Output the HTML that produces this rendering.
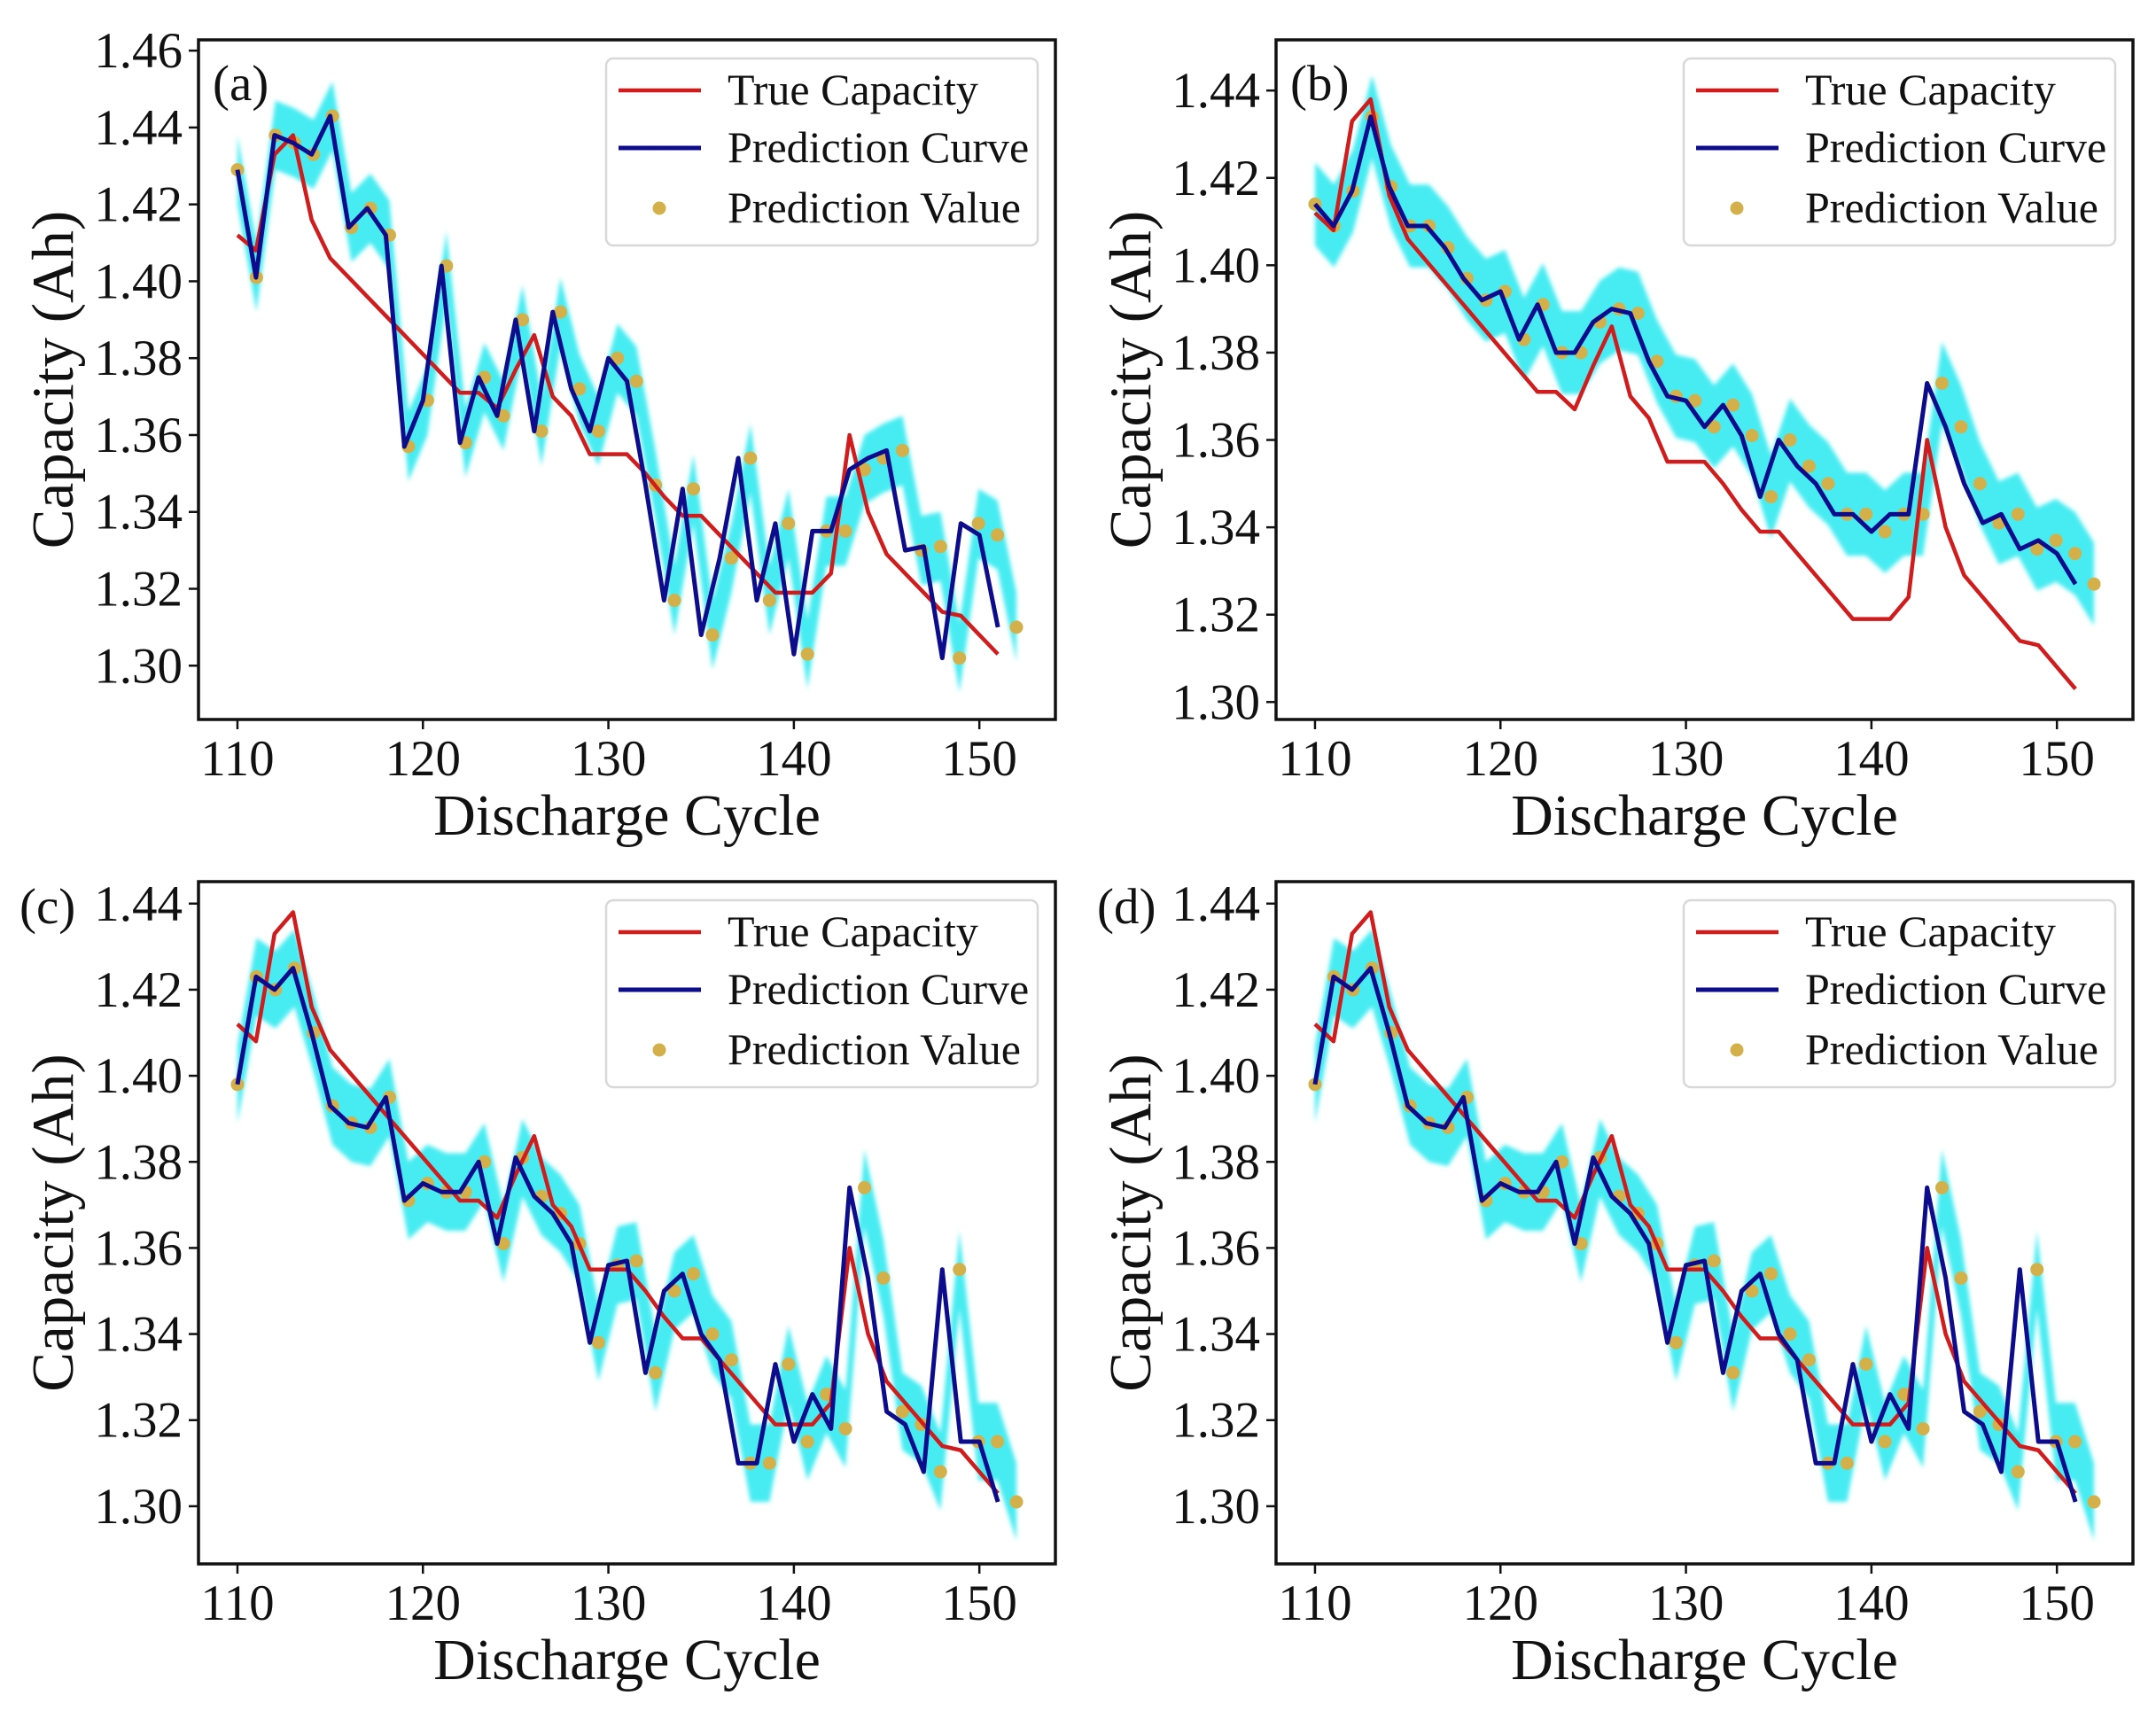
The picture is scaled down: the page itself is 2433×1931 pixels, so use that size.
<!DOCTYPE html>
<html><head><meta charset="utf-8">
<style>
html,body{margin:0;padding:0;background:#fff;}
svg{display:block;}
text{font-family:"Liberation Serif",serif;fill:#111;}
</style></head>
<body>
<svg id="fig" width="2433" height="1931" viewBox="0 0 2433 1931" xmlns="http://www.w3.org/2000/svg">
<defs><filter id="soft" x="-5%" y="-5%" width="110%" height="110%"><feGaussianBlur stdDeviation="2.5"/></filter></defs>
</svg>
<script>
// ---------- data ----------
const cycles = [110,111,112,113,114,115,116,117,118,119,120,121,122,123,124,125,126,127,128,129,130,131,132,133,134,135,136,137,138,139,140,141,142,143,144,145,146,147,148,149,150,151];
const trueCapacity = [1.412,1.408,1.433,1.438,1.416,1.406,1.401,1.396,1.391,1.386,1.381,1.376,1.371,1.371,1.367,1.377,1.386,1.370,1.365,1.355,1.355,1.355,1.350,1.344,1.339,1.339,1.334,1.329,1.324,1.319,1.319,1.319,1.324,1.360,1.340,1.329,1.324,1.319,1.314,1.313,1.308,1.303];
const predA = [1.429,1.401,1.438,1.436,1.433,1.443,1.414,1.419,1.412,1.357,1.369,1.404,1.358,1.375,1.365,1.390,1.361,1.392,1.372,1.361,1.380,1.374,1.347,1.317,1.346,1.308,1.328,1.354,1.317,1.337,1.303,1.335,1.335,1.351,1.354,1.356,1.330,1.331,1.302,1.337,1.334,1.310];
const predB = [1.414,1.409,1.417,1.434,1.418,1.409,1.409,1.404,1.397,1.392,1.394,1.383,1.391,1.380,1.380,1.387,1.390,1.389,1.378,1.370,1.369,1.363,1.368,1.361,1.347,1.360,1.354,1.350,1.343,1.343,1.339,1.343,1.343,1.373,1.363,1.350,1.341,1.343,1.335,1.337,1.334,1.327];
const predC = [1.398,1.423,1.420,1.425,1.410,1.393,1.389,1.388,1.395,1.371,1.375,1.373,1.373,1.380,1.361,1.381,1.372,1.368,1.361,1.338,1.356,1.357,1.331,1.350,1.354,1.340,1.334,1.310,1.310,1.333,1.315,1.326,1.318,1.374,1.353,1.322,1.319,1.308,1.355,1.315,1.315,1.301];
const predD = predC.slice();
const yTicksA = [1.30,1.32,1.34,1.36,1.38,1.40,1.42,1.44,1.46];
const yTicksB = [1.30,1.32,1.34,1.36,1.38,1.40,1.42,1.44];
const xTicks = [110,120,130,140,150];
const legendLabels = ["True Capacity","Prediction Curve","Prediction Value"];

const NS="http://www.w3.org/2000/svg";
const svg=document.getElementById('fig');
function mk(tag,attrs,parent){const e=document.createElementNS(NS,tag);for(const k in attrs)e.setAttribute(k,attrs[k]);(parent||svg).appendChild(e);return e;}

const panels=[
 {id:'a',pred:predA,left:224,top:45,bottom:812,ymin:1.286,ymax:1.4628,ticks:yTicksA,band:0.009,labelInside:true},
 {id:'b',pred:predB,left:1440,top:45,bottom:812,ymin:1.296,ymax:1.4516,ticks:yTicksB,band:0.0095,labelInside:true},
 {id:'c',pred:predC,left:224,top:995,bottom:1765,ymin:1.2866,ymax:1.4451,ticks:yTicksB,band:0.009,labelInside:false},
 {id:'d',pred:predD,left:1440,top:995,bottom:1765,ymin:1.2866,ymax:1.4451,ticks:yTicksB,band:0.009,labelInside:false}
];

panels.forEach(p=>{
  const W=967, right=p.left+W;
  const xmin=107.9,xmax=154.1;
  const X=v=>p.left+(v-xmin)/(xmax-xmin)*W;
  const Y=v=>p.bottom-(v-p.ymin)/(p.ymax-p.ymin)*(p.bottom-p.top);
  const g=mk('g',{});
  
  
  const n=p.pred.length;
  const dotX=p.pred.map((v,i)=>110+i*42/(n-1));
  let up='',lo='';
  p.pred.forEach((v,i)=>{up+=(i?'L':'M')+X(dotX[i]).toFixed(1)+','+Y(v+p.band).toFixed(1);});
  for(let i=n-1;i>=0;i--){lo+='L'+X(dotX[i]).toFixed(1)+','+Y(p.pred[i]-p.band).toFixed(1);}
  const band=mk('path',{d:up+lo+'Z',fill:'#33eaf0',opacity:'0.9',filter:'url(#soft)'},g);
  
  
  p.pred.forEach((v,i)=>{
    const c=mk('circle',{cx:X(dotX[i]),cy:Y(v),r:7.5,fill:'#d4b04a'},g);
    
    
  });
  const tl=mk('polyline',{points:cycles.map((c,i)=>X(c)+','+Y(trueCapacity[i])).join(' '),fill:'none',stroke:'#d01c1c','stroke-width':4.5,'stroke-linejoin':'round'},g);
  
  
  const pl=mk('polyline',{points:cycles.map((c,i)=>X(c)+','+Y(p.pred[i])).join(' '),fill:'none',stroke:'#0c0c8c','stroke-width':5,'stroke-linejoin':'round'},g);
  
  
  const fr=mk('rect',{x:p.left,y:p.top,width:W,height:p.bottom-p.top,fill:'none',stroke:'#111','stroke-width':3.5},g);
  
  
  p.ticks.forEach(t=>{
    const y=Y(t);
    mk('line',{x1:p.left-11,x2:p.left,y1:y,y2:y,stroke:'#111','stroke-width':2.5},g);
    const tx=mk('text',{x:p.left-18,y:y+19,'text-anchor':'end','font-size':57},g);
    tx.textContent=t.toFixed(2);
    
    
  });
  xTicks.forEach(t=>{
    const x=X(t);
    mk('line',{x1:x,x2:x,y1:p.bottom,y2:p.bottom+11,stroke:'#111','stroke-width':2.5},g);
    const tx=mk('text',{x:x,y:p.bottom+63,'text-anchor':'middle','font-size':57},g);
    tx.textContent=t;
    
    
  });
  const xt=mk('text',{x:p.left+W/2,y:p.bottom+130,'text-anchor':'middle','font-size':66},g);
  xt.textContent='Discharge Cycle';
  
  
  const cy=(p.top+p.bottom)/2;
  const yt=mk('text',{x:0,y:0,'text-anchor':'middle','font-size':67,transform:'translate('+(p.left-142)+','+cy+') rotate(-90)'},g);
  yt.textContent='Capacity (Ah)';
  
  
  const pl2=mk('text',p.labelInside?{x:p.left+16,y:p.top+68,'font-size':57}:{x:p.left-202,y:p.top+47,'font-size':57},g);
  pl2.textContent='('+p.id+')';
  
  
  const lx=right-507, ly=p.top+21;
  const lg=mk('g',{},g);
  
  
  mk('rect',{x:lx,y:ly,width:487,height:211,rx:8,fill:'#fff',stroke:'#d8d8d8','stroke-width':2.5},lg);
  const rows=[ly+36,ly+101,ly+169];
  mk('line',{x1:lx+14,x2:lx+107,y1:rows[0],y2:rows[0],stroke:'#d01c1c','stroke-width':4.5},lg);
  mk('line',{x1:lx+14,x2:lx+107,y1:rows[1],y2:rows[1],stroke:'#0c0c8c','stroke-width':5},lg);
  mk('circle',{cx:lx+60,cy:rows[2],r:7.5,fill:'#d4b04a'},lg);
  legendLabels.forEach((s,i)=>{
    const t=mk('text',{x:lx+137,y:rows[i]+16,'font-size':50},lg);
    t.textContent=s;
    
    
  });
});
</script>
</body></html>
